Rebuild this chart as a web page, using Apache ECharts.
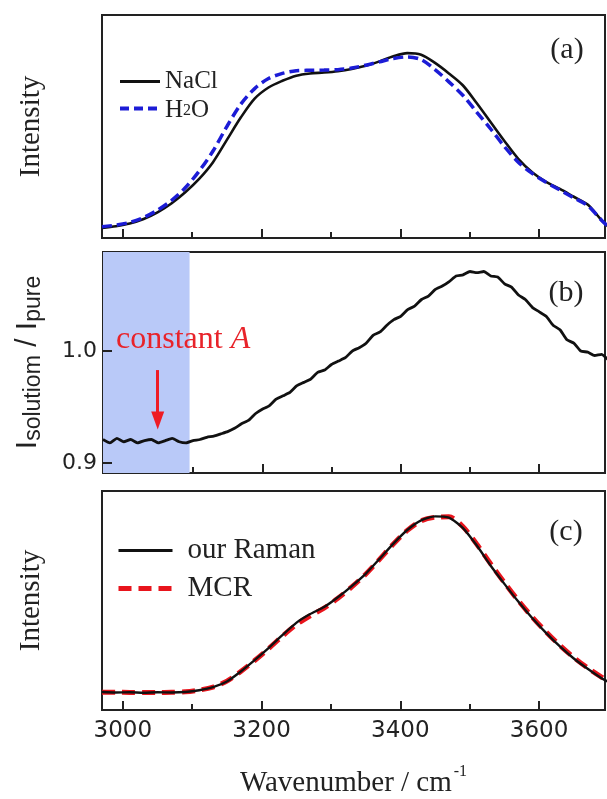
<!DOCTYPE html>
<html>
<head>
<meta charset="utf-8">
<script src="https://cdn.jsdelivr.net/npm/echarts@6/dist/echarts.min.js"></script>
<style>
  html, body { margin: 0; padding: 0; background: #fff; }
  #main { width: 607px; height: 799px; }
</style>
</head>
<body>
<div id="main"></div>
<script>
// wavenumber sampling for panels (a) and (c)
const waveCoarse = [2970, 2990, 3010, 3030, 3050, 3070, 3090, 3110, 3130, 3150, 3170, 3190, 3210, 3230,
  3250, 3270, 3290, 3310, 3330, 3350, 3370, 3390, 3410, 3430, 3450, 3470, 3490, 3510, 3530, 3550,
  3570, 3590, 3610, 3630, 3650, 3670, 3690, 3700]
// (a) normalised spectra
const naclIntensity = [0.045, 0.053, 0.065, 0.085, 0.115, 0.155, 0.205, 0.265, 0.34, 0.44, 0.54, 0.625, 0.675, 0.705,
  0.728, 0.738, 0.742, 0.748, 0.758, 0.772, 0.792, 0.815, 0.829, 0.822, 0.785, 0.738, 0.685, 0.605, 0.52, 0.435,
  0.355, 0.295, 0.252, 0.22, 0.185, 0.15, 0.08, 0.05]
const waterIntensity = [0.05, 0.058, 0.07, 0.092, 0.125, 0.168, 0.225, 0.30, 0.39, 0.50, 0.60, 0.67, 0.715, 0.738,
  0.750, 0.752, 0.753, 0.755, 0.762, 0.775, 0.79, 0.805, 0.812, 0.80, 0.755, 0.70, 0.64, 0.565, 0.49, 0.41,
  0.34, 0.29, 0.25, 0.215, 0.18, 0.145, 0.08, 0.05]

// (b) ratio I_solution / I_pure
const waveFine = [2970, 2980, 2990, 3000, 3010, 3020, 3030, 3040, 3050, 3060, 3070, 3080, 3090, 3100, 3110, 3120,
  3130, 3140, 3150, 3160, 3170, 3180, 3190, 3200, 3210, 3220, 3230, 3240, 3250, 3260, 3270, 3280, 3290, 3300,
  3310, 3320, 3330, 3340, 3350, 3360, 3370, 3380, 3390, 3400, 3410, 3420, 3430, 3440, 3450, 3460, 3470, 3480,
  3490, 3500, 3510, 3520, 3530, 3540, 3550, 3560, 3570, 3580, 3590, 3600, 3610, 3620, 3630, 3640, 3650, 3660,
  3670, 3680, 3690, 3700]
const ratio = [0.921, 0.918, 0.922, 0.919, 0.921, 0.918, 0.920, 0.921, 0.918, 0.920, 0.922, 0.919, 0.918, 0.920,
  0.921, 0.923, 0.924, 0.926, 0.928, 0.931, 0.935, 0.938, 0.944, 0.948, 0.951, 0.957, 0.960, 0.963, 0.969,
  0.972, 0.975, 0.981, 0.983, 0.988, 0.991, 0.994, 1.000, 1.003, 1.007, 1.014, 1.017, 1.023, 1.028, 1.031,
  1.037, 1.040, 1.046, 1.049, 1.055, 1.058, 1.062, 1.067, 1.068, 1.071, 1.070, 1.071, 1.067, 1.066, 1.060,
  1.057, 1.050, 1.046, 1.039, 1.035, 1.031, 1.023, 1.019, 1.010, 1.007, 1.000, 0.999, 0.996, 0.997, 0.992]

// (c) extracted spectrum vs MCR
const ramanIntensity = [0.082, 0.080, 0.081, 0.079, 0.081, 0.080, 0.082, 0.090, 0.104, 0.130, 0.176, 0.228, 0.283,
  0.342, 0.398, 0.438, 0.470, 0.515, 0.566, 0.622, 0.690, 0.760, 0.822, 0.866, 0.884, 0.878, 0.832, 0.752,
  0.660, 0.576, 0.495, 0.420, 0.352, 0.290, 0.235, 0.188, 0.145, 0.128]
const mcrIntensity = [0.081, 0.081, 0.080, 0.080, 0.080, 0.081, 0.083, 0.091, 0.105, 0.132, 0.176, 0.226, 0.280,
  0.337, 0.390, 0.430, 0.465, 0.510, 0.562, 0.620, 0.688, 0.758, 0.820, 0.864, 0.880, 0.882, 0.838, 0.758,
  0.668, 0.582, 0.500, 0.425, 0.357, 0.295, 0.240, 0.192, 0.150, 0.132]

const xTickLabels = [3000, 3200, 3400, 3600]
const xMinorTicks = [3100, 3300, 3500]
const ratioTicks = [0.9, 1.0]
const constantRange = [2970, 3095]
const arrowX = 3049
const arrowY = [0.983, 0.938]

const zip = (xs, ys) => xs.map((x, i) => [x, ys[i]])

const ink = '#222'
const serif = 'Liberation Serif'
const sans = 'DejaVu Sans'
const xMin = 2970, xMax = 3695
const ratioMin = 0.8911, ratioMax = 1.0884
const plotWidth = 503

const chart = echarts.init(document.getElementById('main'), null, { renderer: 'canvas' })

const grids = [
  { left: 102, right: 2, top: 15, height: 223 },
  { left: 102, right: 2, top: 252, height: 221 },
  { left: 102, right: 2, top: 491, height: 222 }
].map(g => Object.assign(g, { show: true, borderColor: ink, borderWidth: 2, containLabel: false }))

// short inward tick segments, placed through the series' own axes
const tickStyle = { color: ink, width: 2, type: 'solid' }
const minorTickMarks = (yBottom, yTop) => xMinorTicks.map(x => [
  { coord: [x, yBottom], symbol: 'none', lineStyle: tickStyle },
  { coord: [x, yTop], symbol: 'none' }
])
const pxToRatio = (ratioMax - ratioMin) / 221
const pxToWave = (xMax - xMin) / plotWidth

const xAxes = grids.map((g, i) => ({
  type: 'value', gridIndex: i, min: xMin, max: xMax, position: 'bottom', splitNumber: 4,
  axisLine: { show: true, lineStyle: { color: ink, width: 2 } },
  axisTick: { show: true, inside: true, length: 9, lineStyle: { color: ink, width: 2 } },
  axisLabel: {
    show: i === 2, customValues: xTickLabels, margin: 10,
    fontFamily: sans, fontSize: 23, color: ink,
    formatter: v => String(v)
  },
  splitLine: { show: false },
  name: i === 2 ? '{n|Wavenumber / cm}{s|-1}' : '',
  nameLocation: 'middle', nameGap: 54,
  nameTextStyle: {
    rich: {
      n: { fontFamily: serif, fontSize: 29, color: ink, lineHeight: 34, verticalAlign: 'bottom' },
      s: { fontFamily: serif, fontSize: 16, color: ink, verticalAlign: 'top', padding: [0, 0, 16, 2] }
    }
  }
}))

const intensityAxis = (i) => ({
  type: 'value', gridIndex: i, min: 0, max: 1,
  axisLine: { show: false }, axisTick: { show: false }, axisLabel: { show: false },
  splitLine: { show: false },
  name: 'Intensity', nameLocation: 'middle', nameGap: 56,
  nameTextStyle: { fontFamily: serif, fontSize: 29, color: ink }
})

const yAxes = [
  intensityAxis(0),
  {
    type: 'value', gridIndex: 1, min: ratioMin, max: ratioMax, splitNumber: 2,
    axisLine: { show: true, lineStyle: { color: ink, width: 2 } },
    axisTick: { show: true, inside: true, length: 9, lineStyle: { color: ink, width: 2 } },
    axisLabel: {
      customValues: ratioTicks, margin: 6, fontFamily: sans, fontSize: 22, color: ink,
      formatter: v => v.toFixed(1)
    },
    splitLine: { show: false },
    name: '{I|I}{s|solutiom}{I| / I}{s|pure}',
    nameLocation: 'middle', nameGap: 58,
    nameTextStyle: {
      rich: {
        I: { fontFamily: 'Liberation Sans', fontSize: 30, color: ink, lineHeight: 32, verticalAlign: 'top' },
        s: { fontFamily: 'Liberation Sans', fontSize: 23, color: ink, lineHeight: 24, verticalAlign: 'bottom', padding: [14, 0, 0, 0] }
      }
    }
  },
  intensityAxis(2)
]

const series = [
  {
    name: 'NaCl', type: 'line', xAxisIndex: 0, yAxisIndex: 0, smooth: 0.3,
    symbol: 'none', data: zip(waveCoarse, naclIntensity),
    lineStyle: { color: '#111', width: 2.6 }, itemStyle: { color: '#111' },
    markLine: { silent: true, animation: false, label: { show: false }, data: minorTickMarks(0, 6 / 223) }
  },
  {
    name: 'H2O', type: 'line', xAxisIndex: 0, yAxisIndex: 0, smooth: 0.3,
    symbol: 'none', data: zip(waveCoarse, waterIntensity),
    lineStyle: { color: '#1c1cd6', width: 3.5, type: [10, 5] }, itemStyle: { color: '#1c1cd6' }
  },
  {
    name: 'ratio', type: 'line', xAxisIndex: 1, yAxisIndex: 1, smooth: 0.15,
    symbol: 'none', data: zip(waveFine, ratio), z: 5,
    lineStyle: { color: '#111', width: 2.8 },
    markArea: {
      silent: true,
      itemStyle: { color: '#b9c9f8', opacity: 1 },
      data: [[{ xAxis: constantRange[0] }, { xAxis: constantRange[1] }]]
    },
    markLine: {
      silent: true, animation: false,
      label: { show: false },
      data: [
        [
          { coord: [arrowX, arrowY[0]], symbol: 'none', lineStyle: { color: '#ee1c25', width: 3, type: 'solid' } },
          { coord: [arrowX, arrowY[1]], symbol: 'triangle', symbolSize: [13, 18] }
        ],
        ...ratioTicks.map(v => [
          { coord: [xMin, v], symbol: 'none', lineStyle: tickStyle },
          { coord: [xMin + 9 * pxToWave, v], symbol: 'none' }
        ]),
        ...minorTickMarks(ratioMin, ratioMin + 6 * pxToRatio)
      ]
    }
  },
  {
    name: 'MCR', type: 'line', xAxisIndex: 2, yAxisIndex: 2, smooth: 0.3,
    symbol: 'none', data: zip(waveCoarse, mcrIntensity),
    lineStyle: { color: '#e8141c', width: 5, type: [13, 7] }, itemStyle: { color: '#e8141c' },
    markLine: { silent: true, animation: false, label: { show: false }, data: minorTickMarks(0, 6 / 222) }
  },
  {
    name: 'our Raman', type: 'line', xAxisIndex: 2, yAxisIndex: 2, smooth: 0.2,
    symbol: 'none', data: zip(waveCoarse, ramanIntensity), z: 4,
    lineStyle: { color: '#111', width: 2.4 }, itemStyle: { color: '#111' }
  }
]

const option = {
  animation: false,
  backgroundColor: '#fff',
  grid: grids,
  xAxis: xAxes,
  yAxis: yAxes,
  legend: [
    {
      data: [
        { name: 'NaCl', lineStyle: { width: 3 } },
        { name: 'H2O', lineStyle: { width: 4, type: [9, 5] } }
      ],
      orient: 'vertical', left: 118, top: 69, padding: 0,
      itemWidth: 40, itemHeight: 12, itemGap: 0, itemStyle: { opacity: 0 },
      textStyle: {
        fontFamily: serif, fontSize: 25, color: ink, lineHeight: 21,
        rich: {
          n: { fontFamily: serif, fontSize: 25, color: ink, lineHeight: 21, verticalAlign: 'top' },
          s: { fontFamily: serif, fontSize: 16, color: ink, lineHeight: 16, verticalAlign: 'bottom', padding: [9, 0, 0, 0] }
        }
      },
      formatter: name => name === 'H2O' ? '{n|H}{s|2}{n|O}' : name
    },
    {
      data: [
        { name: 'our Raman', lineStyle: { width: 3 } },
        { name: 'MCR', lineStyle: { width: 5, type: [13, 7] } }
      ],
      orient: 'vertical', left: 116, top: 535, padding: 0,
      itemWidth: 54, itemHeight: 14, itemGap: 7, itemStyle: { opacity: 0 },
      textStyle: { fontFamily: serif, fontSize: 29, color: ink, lineHeight: 31, padding: [0, 0, 0, 10] }
    }
  ],
  graphic: [
    { type: 'text', x: 567, y: 50, style: { text: '(a)', font: '30px "Liberation Serif"', fill: ink, textAlign: 'center', textVerticalAlign: 'middle' } },
    { type: 'text', x: 566, y: 293, style: { text: '(b)', font: '30px "Liberation Serif"', fill: ink, textAlign: 'center', textVerticalAlign: 'middle' } },
    { type: 'text', x: 566, y: 532, style: { text: '(c)', font: '30px "Liberation Serif"', fill: ink, textAlign: 'center', textVerticalAlign: 'middle' } },
    {
      type: 'text', x: 116, y: 340, z: 10,
      style: {
        text: '{n|constant }{i|A}', textAlign: 'left', textVerticalAlign: 'middle',
        rich: {
          n: { fontFamily: serif, fontSize: 32, fill: '#e8232a' },
          i: { fontFamily: serif, fontSize: 32, fontStyle: 'italic', fill: '#e8232a' }
        }
      }
    }
  ],
  series: series
}

chart.setOption(option)
</script>
</body>
</html>
